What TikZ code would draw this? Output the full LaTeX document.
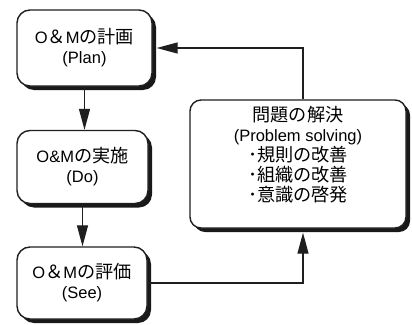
\documentclass[tikz,border=0pt]{standalone}
\usepackage{fontspec}
\setmainfont{Liberation Sans}
\newfontfamily\jp[Scale=1.1]{Noto Sans CJK JP}
\usetikzlibrary{arrows.meta,shadows}
\begin{document}
\begin{tikzpicture}[x=1pt,y=-1pt,
  box/.style={draw=black!88, line width=1.4pt, fill=white, rounded corners=13pt,
    drop shadow={shadow xshift=4pt, shadow yshift=-4pt, fill=black!90, opacity=1},
    align=center, inner sep=0pt, font=\fontsize{16.5}{20}\selectfont},
  txt/.style={align=center, inner sep=0pt, font=\fontsize{16.5}{20}\selectfont},
  arr/.style={draw=black!88, line width=1.3pt, -{Triangle[length=21pt,width=11pt]}}]
\useasboundingbox (0,0) rectangle (412,324);
\node[box, minimum width=135, minimum height=76] (b1) at (84.5,48) {O{\jp ＆}M{\jp の計画}\\(Plan)};
\node[box, minimum width=131, minimum height=73] (b2) at (82.5,167) {O\&M{\jp の実施}\\(Do)};
\node[box, minimum width=130, minimum height=72] (b3) at (82,283) {O{\jp ＆}M{\jp の評価}\\(See)};
\node[box, rounded corners=11pt, minimum width=216, minimum height=128] (b4) at (298,164) {};
\node[txt] (t4) at (298,155) {{\jp 問題の解決}\\(Problem solving)\\{\jp ･規則の改善}\\{\jp ･組織の改善}\\{\jp ･意識の啓発}};
\draw[arr] (b1.south) -- (b1.south |- b2.north);
\draw[arr] (b2.south) -- (b2.south |- b3.north);
\draw[arr] (b3.east) -| ([xshift=5pt,yshift=-4pt]b4.south);
\draw[arr] ([xshift=5pt]b4.north) |- ([xshift=4pt]b1.east);
\end{tikzpicture}
\end{document}
